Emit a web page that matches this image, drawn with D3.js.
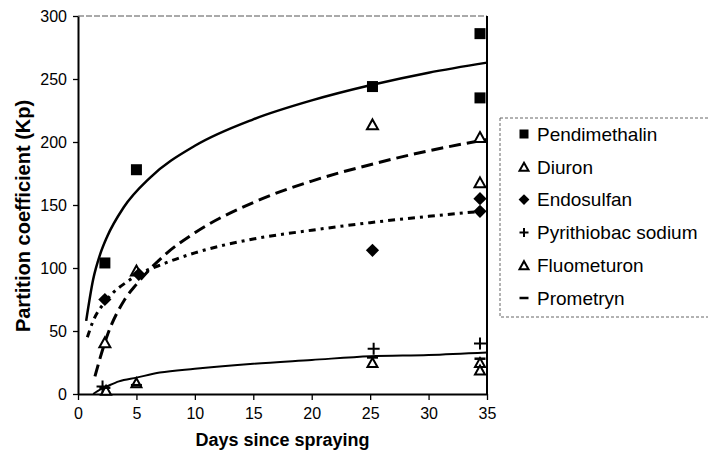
<!DOCTYPE html>
<html>
<head>
<meta charset="utf-8">
<script src="https://cdn.jsdelivr.net/npm/d3@7"></script>
<style>
  html, body { margin: 0; padding: 0; background: #fff; }
  svg { display: block; font-family: "Liberation Sans", Arial, sans-serif; }
</style>
</head>
<body>
<svg id="chart" width="708" height="454"></svg>
<script>
// ---------- data ----------
const xTicks = [0, 5, 10, 15, 20, 25, 30, 35];
const yTicks = [0, 50, 100, 150, 200, 250, 300];

const pendimethalinX = [2.3, 5.0, 25.2, 34.4, 34.4];
const pendimethalinY = [104, 178, 244, 286, 235];

const diuronX = [2.3, 5.0, 25.2, 34.4, 34.4];
const diuronY = [41, 98, 214, 204, 168];

const endosulfanX = [2.3, 5.2, 25.2, 34.4, 34.4];
const endosulfanY = [75, 95, 114, 155, 145];

const pyrithiobacX = [2.1, 25.3, 34.4];
const pyrithiobacY = [6, 36, 40];

const fluometuronX = [2.4, 5.0, 25.2, 34.4, 34.4];
const fluometuronY = [3, 9, 25, 25, 19];

const prometrynX = [2.3, 5.0, 25.2, 34.4];
const prometrynY = [5, 7, 29, 28];

// trend lines
const trendPendX = [0.7, 1.3, 1.9, 2.5, 3.9, 6.2, 10, 15, 20, 25, 30, 35];
const trendPendY = [58, 91, 111, 125, 148, 172, 197, 218, 233, 245, 255, 263];

const trendDiuronX = [1.45, 2.45, 4.0, 5.0, 7.5, 10, 15, 20, 25, 30, 35];
const trendDiuronY = [14, 45, 75, 87, 111, 128, 152, 169, 182, 193, 202];

const trendEndoX = [0.8, 1.3, 2.4, 4.5, 7.5, 10, 15, 20, 25, 30, 34.5];
const trendEndoY = [45, 58, 74, 91, 104, 112, 123, 130, 136, 141, 145];

const trendLowX = [1.3, 2.0, 2.7, 3.5, 5, 7, 10, 15, 20, 25, 30, 35];
const trendLowY = [0, 4, 7, 10, 13, 17, 20, 24, 27, 30, 31, 33];

const legendNames = ["Pendimethalin", "Diuron", "Endosulfan", "Pyrithiobac sodium", "Fluometuron", "Prometryn"];
const legendSymbols = ["square", "triangle", "diamond", "plus", "triangle", "dash"];

// ---------- layout ----------
const svg = d3.select("#chart");
const L = 78, R = 487, T = 16, B = 394;
const x = d3.scaleLinear().domain([0, 35]).range([L, R]);
const y = d3.scaleLinear().domain([0, 300]).range([B, T]);

// plot frame (top thin, right solid)
svg.append("line").attr("x1", L).attr("x2", R).attr("y1", T).attr("y2", T)
  .attr("stroke", "#555").attr("stroke-width", 1).attr("stroke-dasharray", "6,2");
svg.append("line").attr("x1", R).attr("x2", R).attr("y1", T).attr("y2", B)
  .attr("stroke", "#000").attr("stroke-width", 2);

// axes
const xAxis = svg.append("g").attr("transform", `translate(0,${B})`)
  .call(d3.axisBottom(x).tickValues(xTicks).tickSize(6).tickSizeOuter(0).tickPadding(8));
const yAxis = svg.append("g").attr("transform", `translate(${L},0)`)
  .call(d3.axisLeft(y).tickValues(yTicks).tickSize(5).tickSizeOuter(0).tickPadding(6));
[xAxis, yAxis].forEach(g => {
  g.select(".domain").attr("stroke", "#000").attr("stroke-width", 2);
  g.selectAll(".tick line").attr("stroke", "#000").attr("stroke-width", 1.3);
  g.selectAll(".tick text").attr("fill", "#000").attr("font-size", 16)
    .attr("font-family", "'Liberation Sans', Arial, sans-serif");
});
yAxis.selectAll(".tick text").attr("dy", "0.35em");

// axis titles
svg.append("text").attr("x", (L + R) / 2).attr("y", 446).attr("text-anchor", "middle")
  .attr("font-size", 18).attr("font-weight", "bold").text("Days since spraying");
svg.append("text").attr("transform", `translate(30,216) rotate(-90)`)
  .attr("text-anchor", "middle").attr("font-size", 20).attr("font-weight", "bold")
  .text("Partition coefficient (Kp)");

// trend lines
const line = d3.line().x(d => x(d[0])).y(d => y(d[1])).curve(d3.curveMonotoneX);
function trend(xs, ys, dash, w) {
  svg.append("path").datum(xs.map((v, i) => [v, ys[i]]))
    .attr("d", line).attr("fill", "none").attr("stroke", "#000")
    .attr("stroke-width", w).attr("stroke-dasharray", dash);
}
trend(trendPendX, trendPendY, null, 2.5);
trend(trendDiuronX, trendDiuronY, "12,6", 3);
trend(trendEndoX, trendEndoY, "7,5,3,5", 3);
trend(trendLowX, trendLowY, null, 2);

// markers
function drawMarker(g, type, cx, cy, s) {
  if (type === "square") {
    g.append("rect").attr("x", cx - s / 2).attr("y", cy - s / 2).attr("width", s).attr("height", s).attr("fill", "#000");
  } else if (type === "triangle") {
    const h = s * 0.9;
    g.append("path").attr("d", `M${cx},${cy - h / 2}L${cx + s / 2},${cy + h / 2}L${cx - s / 2},${cy + h / 2}Z`)
      .attr("fill", "#fff").attr("stroke", "#000").attr("stroke-width", 2);
  } else if (type === "diamond") {
    const r = s * 0.6;
    g.append("path").attr("d", `M${cx},${cy - r}L${cx + r},${cy}L${cx},${cy + r}L${cx - r},${cy}Z`).attr("fill", "#000");
  } else if (type === "plus") {
    g.append("path").attr("d", `M${cx - s / 2},${cy}H${cx + s / 2}M${cx},${cy - s / 2}V${cy + s / 2}`)
      .attr("stroke", "#000").attr("stroke-width", 2).attr("fill", "none");
  } else if (type === "dash") {
    g.append("path").attr("d", `M${cx - s / 2},${cy}H${cx + s / 2}`)
      .attr("stroke", "#000").attr("stroke-width", 2.5).attr("fill", "none");
  }
}
const marks = svg.append("g");
const series = [
  [pendimethalinX, pendimethalinY, "square", 11],
  [diuronX, diuronY, "triangle", 11],
  [endosulfanX, endosulfanY, "diamond", 11],
  [fluometuronX, fluometuronY, "triangle", 10],
  [prometrynX, prometrynY, "dash", 11],
  [pyrithiobacX, pyrithiobacY, "plus", 12]
];
series.forEach(([xs, ys, type, s]) => {
  xs.forEach((v, i) => drawMarker(marks, type, x(v), y(ys[i]), s));
});

// legend
const lg = svg.append("g");
lg.append("rect").attr("x", 500).attr("y", 118).attr("width", 240).attr("height", 199)
  .attr("fill", "#fff").attr("stroke", "#666").attr("stroke-width", 1).attr("stroke-dasharray", "3,2");
legendNames.forEach((name, i) => {
  const cy = 134 + i * 32.8;
  drawMarker(lg, legendSymbols[i], 524, cy, 9);
  lg.append("text").attr("x", 537).attr("y", cy).attr("dy", "0.36em")
    .attr("font-size", 19).attr("fill", "#000").text(name);
});
</script>
</body>
</html>
